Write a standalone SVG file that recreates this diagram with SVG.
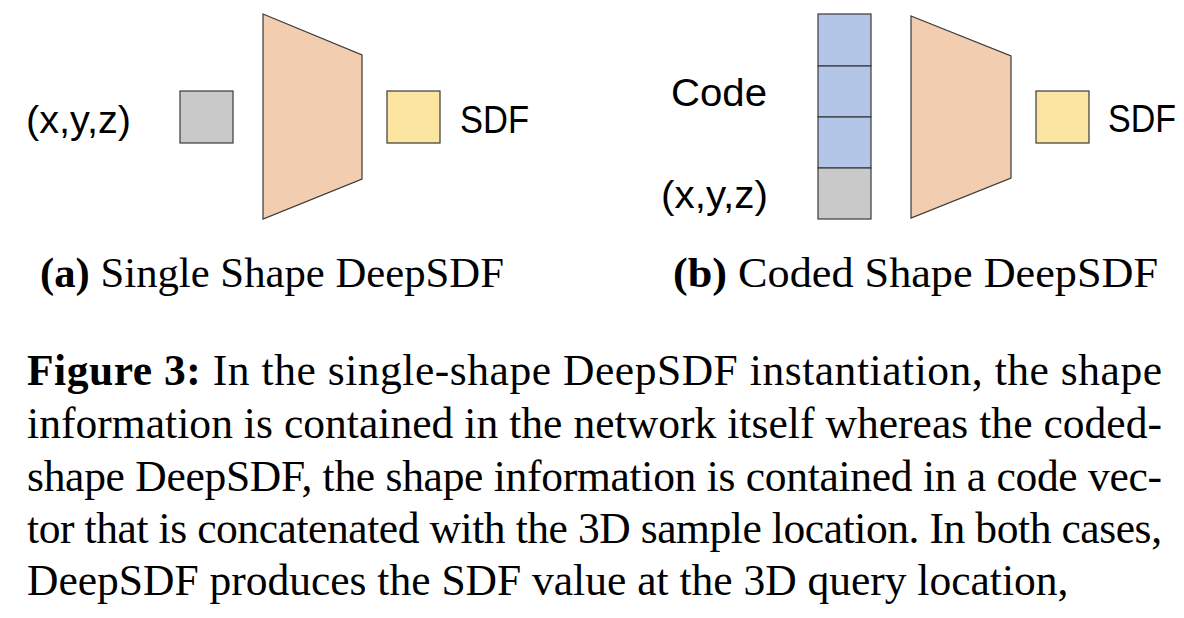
<svg xmlns="http://www.w3.org/2000/svg" width="1184" height="618" viewBox="0 0 1184 618">
<style>
.lbl{font-family:"Liberation Sans",Arial,sans-serif;font-size:39px;fill:#000}
.cap{font-family:"Liberation Serif","Times New Roman",serif;font-size:43px;fill:#000}
.para{font-family:"Liberation Serif","Times New Roman",serif;font-size:43.5px;fill:#000}
.b{font-weight:bold}
.shp{stroke:#3a3a3a;stroke-width:1.2}
.gray{fill:#C9C9C9}
.yel{fill:#FBE5A0}
.peach{fill:#F2CDB0}
.blue{fill:#B4C6E7}
</style>
<rect width="1184" height="618" fill="#fff"/>
<g id="panel-a">
  <g id="a-input"><text class="lbl" x="26" y="133" textLength="105" lengthAdjust="spacingAndGlyphs">(x,y,z)</text>
    <rect class="shp gray" x="180" y="91" width="53" height="52"/></g>
  <g id="a-network"><polygon class="shp peach" points="263,14 362,55 362,179 263,219"/></g>
  <g id="a-output"><rect class="shp yel" x="387" y="91" width="53" height="52"/>
    <text class="lbl" x="460" y="133" textLength="69" lengthAdjust="spacingAndGlyphs">SDF</text></g>
  <text class="cap" x="40" y="287" textLength="464" lengthAdjust="spacingAndGlyphs"><tspan class="b">(a)</tspan> Single Shape DeepSDF</text>
</g>
<g id="panel-b">
  <g id="b-input">
    <text class="lbl" x="671" y="106" textLength="96" lengthAdjust="spacingAndGlyphs">Code</text>
    <text class="lbl" x="661" y="208" textLength="107" lengthAdjust="spacingAndGlyphs">(x,y,z)</text>
    <rect class="shp blue" x="818" y="14" width="53" height="52"/>
    <rect class="shp blue" x="818" y="66" width="53" height="51"/>
    <rect class="shp blue" x="818" y="117" width="53" height="51"/>
    <rect class="shp gray" x="818" y="168" width="53" height="51"/>
  </g>
  <g id="b-network"><polygon class="shp peach" points="911,16 1011,56 1011,178 911,218"/></g>
  <g id="b-output"><rect class="shp yel" x="1036" y="91" width="53" height="52"/>
    <text class="lbl" x="1108" y="132" textLength="68" lengthAdjust="spacingAndGlyphs">SDF</text></g>
  <text class="cap" x="673" y="287" textLength="485" lengthAdjust="spacingAndGlyphs"><tspan class="b">(b)</tspan> Coded Shape DeepSDF</text>
</g>
<g id="caption" class="para">
  <text x="27" y="385" textLength="1135" lengthAdjust="spacing"><tspan class="b">Figure 3:</tspan> In the single-shape DeepSDF instantiation, the shape</text>
  <text x="27" y="438" textLength="1135" lengthAdjust="spacing">information is contained in the network itself whereas the coded-</text>
  <text x="27" y="491" textLength="1135" lengthAdjust="spacing">shape DeepSDF, the shape information is contained in a code vec-</text>
  <text x="27" y="543" textLength="1135" lengthAdjust="spacing">tor that is concatenated with the 3D sample location.  In both cases,</text>
  <text x="27" y="595">DeepSDF produces the SDF value at the 3D query location,</text>
</g>
<g id="connectors"></g>
</svg>
